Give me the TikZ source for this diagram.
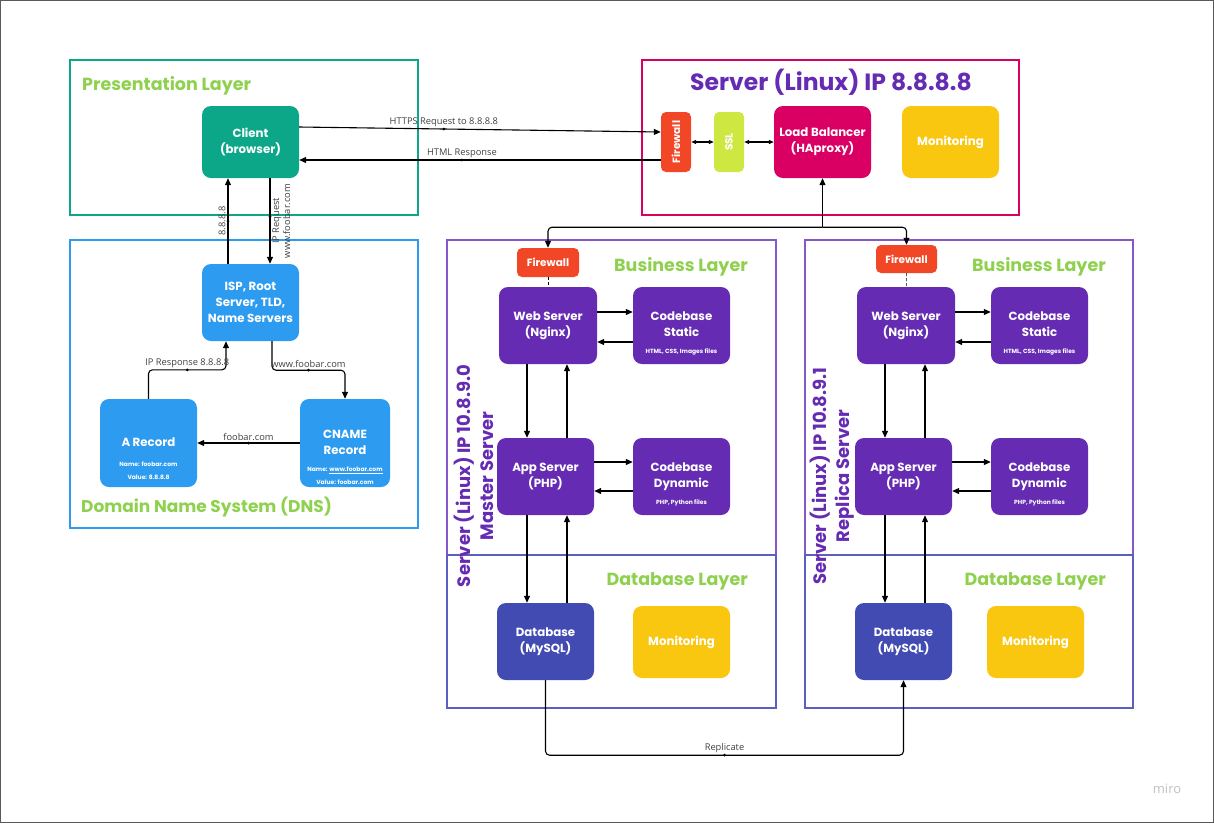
\documentclass[tikz,border=0pt]{standalone}
\usepackage{fontspec}
\usepackage{graphicx}
\setmainfont{Poppins}
\newfontfamily\linkfont{Open Sans}
\newcommand\notesize{\fontsize{6}{8}\selectfont}
\usetikzlibrary{arrows.meta}

\definecolor{clientgreen}{HTML}{0CA789}
\definecolor{dnsblue}{HTML}{2D9BF0}
\definecolor{titlegreen}{HTML}{8FD14F}
\definecolor{serverpurple}{HTML}{652CB3}
\definecolor{lbpink}{HTML}{DA0063}
\definecolor{fwred}{HTML}{F24726}
\definecolor{sslgreen}{HTML}{CEE741}
\definecolor{monyellow}{HTML}{FAC710}
\definecolor{dbblue}{HTML}{414BB2}
\definecolor{bizframe}{HTML}{8458C9}
\definecolor{dbframe}{HTML}{5B5FC0}

\tikzset{
  block/.style={rounded corners=9pt, minimum width=97pt, minimum height=77pt, inner sep=1pt,
    text=white, align=center, font=\fontsize{11.8}{16}\selectfont\bfseries},
  smallwall/.style={block, fill=fwred, rounded corners=5pt, minimum width=62pt, minimum height=29pt,
    font=\fontsize{10.5}{12}\selectfont\bfseries},
  layertitle/.style={text=titlegreen, font=\fontsize{17.5}{19}\selectfont\bfseries, inner sep=0pt},
  servertitle/.style={text=serverpurple, align=center, inner sep=0pt,
    font=\fontsize{18}{23}\selectfont\bfseries},
  link/.style={line width=1.1pt, -{Triangle[length=7pt,width=6pt]}, rounded corners=4pt},
  twoway/.style={line width=1.1pt, {Triangle[length=5pt,width=4pt]}-{Triangle[length=5pt,width=4pt]}},
  linklabel/.style={font=\linkfont\fontsize{9.3}{11}\selectfont, text=black!75, inner sep=2pt},
  middot/.style={circle, fill=black, inner sep=0pt, minimum size=3pt},
  frame/.style={line width=1.4pt}
}

\begin{document}
\begin{tikzpicture}[x=1pt,y=-1pt]
\useasboundingbox (0,0) rectangle (1214,823);
\draw[black!65, line width=1pt] (0.5,0.5) rectangle (1213.5,822.5);

% layer frames
\draw[frame, clientgreen] (70,60) rectangle (418,215);
\draw[frame, dnsblue] (70,240) rectangle (418,528);
\draw[frame, lbpink] (642,60) rectangle (1019,215);
\draw[frame, bizframe] (447,240) rectangle (776,555);
\draw[frame, dbframe] (447,555) rectangle (776,708);
\draw[frame, bizframe] (805,240) rectangle (1133,555);
\draw[frame, dbframe] (805,555) rectangle (1133,708);

% titles
\node[layertitle, anchor=west] (presTitle) at (82,86) {Presentation Layer};
\node[layertitle, anchor=west, font=\fontsize{17}{19}\selectfont\bfseries] (dnsTitle) at (81,507) {Domain Name System (DNS)};
\node[servertitle, font=\fontsize{23.5}{25}\selectfont\bfseries] (srvTitle) at (831,82) {Server (Linux) IP 8.8.8.8};
\node[layertitle, anchor=east] (bizTitleM) at (748,267) {Business Layer};
\node[layertitle, anchor=east] (dbTitleM) at (748,581) {Database Layer};
\node[layertitle, anchor=east] (bizTitleR) at (1106,267) {Business Layer};
\node[layertitle, anchor=east] (dbTitleR) at (1106,581) {Database Layer};
\node[servertitle, rotate=90] (masterTitle) at (474,476) {Server (Linux) IP 10.8.9.0\\Master Server};
\node[servertitle, rotate=90] (replicaTitle) at (832,476) {Server (Linux) IP 10.8.9.1\\Replica Server};

% presentation + dns
\node[block, fill=clientgreen, minimum height=72pt] (client) at (250.5,142) {Client\\(browser)};
\node[block, fill=dnsblue] (isp) at (250.5,302.5) {ISP, Root\\Server, TLD,\\Name Servers};
\node[block, fill=dnsblue, minimum height=88pt] (arec) at (148.5,443)
  {\rule{0pt}{40pt}A Record\\[4pt]{\notesize Name: foobar.com}\\[-3pt]{\notesize Value: 8.8.8.8}};
\node[block, fill=dnsblue, minimum width=90pt, minimum height=88pt] (cname) at (345,443)
  {\rule{0pt}{38pt}CNAME\\Record\\[1pt]{\notesize Name: \underline{www.foobar.com}}\\[-3pt]{\notesize Value: foobar.com}};

% front server
\node[block, fill=fwred, rounded corners=5pt, minimum width=30pt, minimum height=60pt,
  font=\fontsize{10.5}{11}\selectfont\bfseries] (fwTop) at (676,142) {\rotatebox{90}{Firewall}};
\node[block, fill=sslgreen, rounded corners=5pt, minimum width=30pt, minimum height=60pt,
  font=\fontsize{10.5}{11}\selectfont\bfseries] (ssl) at (729,142) {\rotatebox{90}{SSL}};
\node[block, fill=lbpink, minimum height=72pt] (lb) at (822.5,142) {Load Balancer\\(HAproxy)};
\node[block, fill=monyellow, minimum height=72pt] (monTop) at (950.5,142) {Monitoring};

% master server
\node[smallwall] (fwM) at (548,262.5) {Firewall};
\node[block, fill=serverpurple, minimum width=98pt] (webM) at (548,325.5) {Web Server\\(Nginx)};
\node[block, fill=serverpurple] (statM) at (681.5,325.5)
  {\rule{0pt}{24pt}Codebase\\Static\\[1pt]{\notesize HTML, CSS, Images files}};
\node[block, fill=serverpurple] (appM) at (545.5,476.5) {App Server\\(PHP)};
\node[block, fill=serverpurple] (dynM) at (681.5,476.5)
  {\rule{0pt}{24pt}Codebase\\Dynamic\\[1pt]{\notesize PHP, Python files}};
\node[block, fill=dbblue] (dbM) at (545.5,641.5) {Database\\(MySQL)};
\node[block, fill=monyellow, minimum height=72pt] (monM) at (681.5,642) {Monitoring};

% replica server
\node[smallwall, minimum width=61pt, minimum height=28pt] (fwR) at (906.5,259) {Firewall};
\node[block, fill=serverpurple, minimum width=98pt] (webR) at (906,325.5) {Web Server\\(Nginx)};
\node[block, fill=serverpurple] (statR) at (1039.5,325.5)
  {\rule{0pt}{24pt}Codebase\\Static\\[1pt]{\notesize HTML, CSS, Images files}};
\node[block, fill=serverpurple] (appR) at (903.5,476.5) {App Server\\(PHP)};
\node[block, fill=serverpurple] (dynR) at (1039.5,476.5)
  {\rule{0pt}{24pt}Codebase\\Dynamic\\[1pt]{\notesize PHP, Python files}};
\node[block, fill=dbblue] (dbR) at (903.5,641.5) {Database\\(MySQL)};
\node[block, fill=monyellow, minimum height=72pt] (monR) at (1035.5,642) {Monitoring};

% client <-> server
\draw[link] ([yshift=15pt]client.east) -- node[middot, pos=.4]{} node[linklabel, above, pos=.4]{HTTPS Request to 8.8.8.8} ([yshift=10pt]fwTop.west);
\draw[link] ([yshift=-18pt]fwTop.west) -- node[middot, pos=.55]{} node[linklabel, above, pos=.55]{HTML Response} ([yshift=-18pt]client.east);
\draw[twoway] (fwTop) -- (ssl);
\draw[twoway] (ssl) -- (lb);

% dns lookups
\draw[link] ([xshift=-22.5pt]isp.north) -- node[middot]{} node[linklabel, rotate=90, anchor=south]{8.8.8.8} ([xshift=-22.5pt]client.south);
\draw[link] ([xshift=19.5pt]client.south) -- node[middot, pos=.45]{} node[linklabel, rotate=90, anchor=north, align=center, pos=.5]{IP Request\\www.foobar.com} ([xshift=19.5pt]isp.north);
\draw[link] ([xshift=21.5pt]isp.south) -- ++(0,29) -| node[middot, pos=.25]{} node[linklabel, above, pos=.25]{www.foobar.com} (cname.north);
\draw[link] (arec.north) -- ++(0,-29) -| node[middot, pos=.25]{} node[linklabel, above, pos=.25]{IP Response 8.8.8.8} ([xshift=-24.5pt]isp.south);
\draw[link] (cname.west) -- node[middot]{} node[linklabel, above]{foobar.com} (arec.east);

% load balancer to both servers
\coordinate (split) at ([yshift=-49pt]lb.south);
\draw[link] (split) -- (lb.south);
\draw[link] (split) -| (fwM.north);
\draw[link] (split) -| (fwR.north);
\draw[densely dashed, thin] (fwM) -- (webM);
\draw[densely dashed, thin] (fwR) -- (webR);

% master links
\draw[link] ([yshift=13.5pt]webM.east) -- ([yshift=13.5pt]statM.west);
\draw[link] ([yshift=-16.5pt]statM.west) -- ([yshift=-16.5pt]webM.east);
\draw[link] ([yshift=14.5pt]appM.east) -- ([yshift=14.5pt]dynM.west);
\draw[link] ([yshift=-14.5pt]dynM.west) -- ([yshift=-14.5pt]appM.east);
\draw[link] ([xshift=-21pt]webM.south) -- ([xshift=-18.5pt]appM.north);
\draw[link] ([xshift=21.5pt]appM.north) -- ([xshift=19pt]webM.south);
\draw[link] ([xshift=-18.5pt]appM.south) -- ([xshift=-18.5pt]dbM.north);
\draw[link] ([xshift=21.5pt]dbM.north) -- ([xshift=21.5pt]appM.south);

% replica links
\draw[link] ([yshift=13.5pt]webR.east) -- ([yshift=13.5pt]statR.west);
\draw[link] ([yshift=-16.5pt]statR.west) -- ([yshift=-16.5pt]webR.east);
\draw[link] ([yshift=14.5pt]appR.east) -- ([yshift=14.5pt]dynR.west);
\draw[link] ([yshift=-14.5pt]dynR.west) -- ([yshift=-14.5pt]appR.east);
\draw[link] ([xshift=-21pt]webR.south) -- ([xshift=-18.5pt]appR.north);
\draw[link] ([xshift=21.5pt]appR.north) -- ([xshift=19pt]webR.south);
\draw[link] ([xshift=-18.5pt]appR.south) -- ([xshift=-18.5pt]dbR.north);
\draw[link] ([xshift=21.5pt]dbR.north) -- ([xshift=21.5pt]appR.south);

% replication
\draw[link] (dbM.south) -- ++(0,75) -| node[middot, pos=.25]{} node[linklabel, above, pos=.25]{Replicate} (dbR.south);

\node[font=\linkfont\fontsize{13}{14}\selectfont, text=black!25] (miro) at (1167,789) {miro};
\end{tikzpicture}
\end{document}
